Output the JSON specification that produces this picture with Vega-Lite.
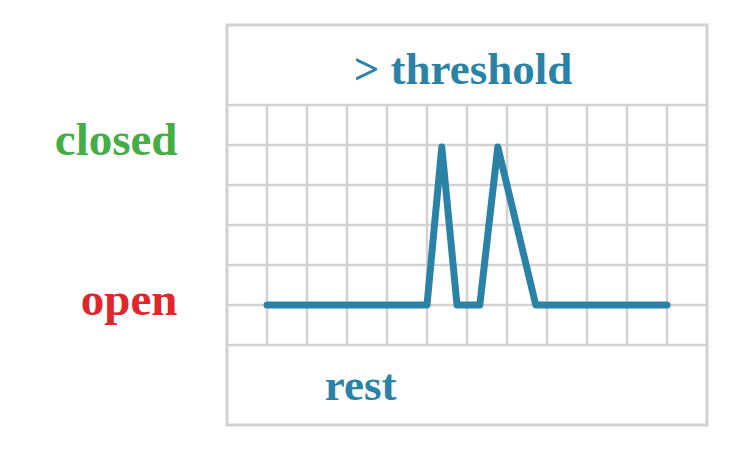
{
  "$schema": "https://vega.github.io/schema/vega-lite/v6.json",
  "autosize": {"type": "none"},
  "padding": {"left": 227, "top": 25, "right": 39, "bottom": 25},
  "width": 480,
  "height": 400,
  "background": "white",
  "view": {"stroke": "#d2d2d2", "strokeWidth": 3},
  "datasets": {
    "vgrid": [{"gx": 1}, {"gx": 2}, {"gx": 3}, {"gx": 4}, {"gx": 5}, {"gx": 6}, {"gx": 7}, {"gx": 8}, {"gx": 9}, {"gx": 10}, {"gx": 11}],
    "hgrid": [{"gy": 2}, {"gy": 3}, {"gy": 4}, {"gy": 5}, {"gy": 6}, {"gy": 7}, {"gy": 8}],
    "signal": [
      {"t": 1, "v": 3},
      {"t": 5.0, "v": 3},
      {"t": 5.37, "v": 6.95},
      {"t": 5.75, "v": 3},
      {"t": 6.32, "v": 3},
      {"t": 6.77, "v": 6.95},
      {"t": 7.72, "v": 3},
      {"t": 11, "v": 3}
    ],
    "bands": [
      {"label": "> threshold", "bx": 5.9, "by": 8.52},
      {"label": "rest", "bx": 3.34, "by": 0.63}
    ]
  },
  "layer": [
    {
      "data": {"name": "vgrid"},
      "mark": {"type": "rule", "color": "#d2d2d2", "strokeWidth": 2.5},
      "encoding": {
        "x": {"field": "gx", "type": "quantitative", "scale": {"domain": [0, 12], "nice": false, "zero": false}, "axis": null},
        "y": {"datum": 2, "type": "quantitative", "scale": {"domain": [0, 10], "nice": false, "zero": false},
          "axis": {
            "values": [3, 7],
            "labelExpr": "datum.value == 7 ? 'closed' : 'open'",
            "domain": false, "ticks": false, "grid": false,
            "labelFont": "Liberation Serif", "labelFontWeight": "bold", "labelFontSize": 47,
            "labelPadding": 50, "labelBaseline": "alphabetic", "labelOffset": 9, "labelAlign": "right",
            "labelColor": {"condition": {"test": "datum.value == 7", "value": "#46ad46"}, "value": "#e0262a"},
            "title": null
          }},
        "y2": {"datum": 8}
      }
    },
    {
      "data": {"name": "hgrid"},
      "mark": {"type": "rule", "color": "#d2d2d2", "strokeWidth": 2.5},
      "encoding": {
        "y": {"field": "gy", "type": "quantitative"},
        "x": {"datum": 0, "type": "quantitative"},
        "x2": {"datum": 12}
      }
    },
    {
      "data": {"name": "signal"},
      "mark": {"type": "line", "color": "#2a83a6", "strokeWidth": 7, "strokeCap": "round", "strokeJoin": "round"},
      "encoding": {
        "x": {"field": "t", "type": "quantitative"},
        "y": {"field": "v", "type": "quantitative"}
      }
    },
    {
      "data": {"name": "bands"},
      "mark": {"type": "text", "color": "#2a83a6", "font": "Liberation Serif", "fontWeight": "bold", "fontSize": 45, "align": "center", "baseline": "alphabetic"},
      "encoding": {
        "x": {"field": "bx", "type": "quantitative"},
        "y": {"field": "by", "type": "quantitative"},
        "text": {"field": "label"}
      }
    }
  ]
}
